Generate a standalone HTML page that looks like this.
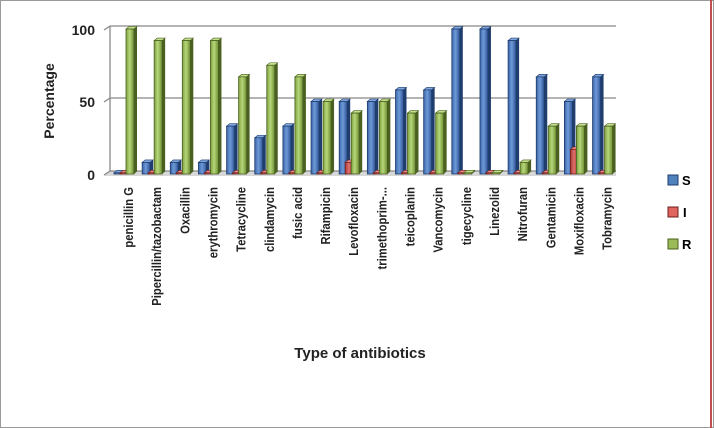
<!DOCTYPE html>
<html><head><style>body{margin:0;background:#fff}svg{display:block;font-family:"Liberation Sans",sans-serif;font-weight:bold}</style></head><body>
<svg width="714" height="428" viewBox="0 0 714 428" xmlns="http://www.w3.org/2000/svg">
<defs>
<linearGradient id="gb" x1="0" x2="1"><stop offset="0" stop-color="#3a64a8"/><stop offset=".45" stop-color="#6f9ad8"/><stop offset="1" stop-color="#2f5597"/></linearGradient>
<linearGradient id="gr" x1="0" x2="1"><stop offset="0" stop-color="#a83a36"/><stop offset=".45" stop-color="#e0706b"/><stop offset="1" stop-color="#9b2f2b"/></linearGradient>
<linearGradient id="gg" x1="0" x2="1"><stop offset="0" stop-color="#7e9f3e"/><stop offset=".45" stop-color="#b6d77a"/><stop offset="1" stop-color="#6f8e33"/></linearGradient>
</defs>
<rect x="0.5" y="0.5" width="713" height="427" fill="#fff" stroke="#999"/>
<line x1="711" y1="0" x2="711" y2="428" stroke="#c0504d" stroke-width="2"/>
<polygon points="104,176 110,171 616,171 616,176" fill="#d8d8d8"/>
<g stroke="#888" stroke-width="1.3">
<line x1="110" y1="26" x2="616" y2="26"/><line x1="104" y1="30" x2="110" y2="26"/>
<line x1="110" y1="98" x2="616" y2="98"/><line x1="104" y1="102" x2="110" y2="98"/>
<line x1="110" y1="171" x2="616" y2="171"/><line x1="104" y1="175" x2="110" y2="171"/>
<line x1="110" y1="26" x2="110" y2="171"/>
</g>
<g font-size="14" fill="#222" text-anchor="end">
<text x="95" y="35">100</text><text x="95" y="107">50</text><text x="95" y="180">0</text>
</g>
<text transform="translate(54,101) rotate(-90)" font-size="14" text-anchor="middle" fill="#222">Percentage</text>
<text x="360" y="358" font-size="15" text-anchor="middle" fill="#222">Type of antibiotics</text>
<g id="bars"></g>
<g font-size="12.5" fill="#222" text-anchor="end" id="labels"></g>
<rect x="668" y="175" width="10" height="10" fill="#4f81bd" stroke="#1f3d6d"/><text x="682" y="185" font-size="13">S</text>
<rect x="668" y="207" width="10" height="10" fill="#e06560" stroke="#6d1f1d"/><text x="683" y="217" font-size="13">I</text>
<rect x="668" y="239" width="10" height="10" fill="#9bbb59" stroke="#4a6020"/><text x="682" y="249" font-size="13">R</text>
<script>
var d=[["penicillin G",0,0,100],["Pipercillin/tazobactam",8,0,92],["Oxacillin",8,0,92],["erythromycin",8,0,92],["Tetracycline",33,0,67],["clindamycin",25,0,75],["fusic acid",33,0,67],["Rifampicin",50,0,50],["Levofloxacin",50,8,42],["trimethoprim-...",50,0,50],["teicoplanin",58,0,42],["Vancomycin",58,0,42],["tigecycline",100,0,0],["Linezolid",100,0,0],["Nitrofuran",92,0,8],["Gentamicin",67,0,33],["Moxifloxacin",50,17,33],["Tobramycin",67,0,33]];
var ns="http://www.w3.org/2000/svg",B=document.getElementById("bars"),L=document.getElementById("labels");
var fills=["url(#gb)","url(#gr)","url(#gg)"],tops=["#7fa6df","#e88a86","#c3df8c"],st=["#1f3d6d","#6d1f1d","#4a6020"];
function el(t,a,p){var e=document.createElementNS(ns,t);for(var k in a)e.setAttribute(k,a[k]);p.appendChild(e);return e;}
d.forEach(function(r,i){var g=114+28.15*i;
for(var s=0;s<3;s++){var v=r[s+1],x=g+s*6,w=8,h=Math.max(v*1.45,1.2),y=174-h;
el("polygon",{points:(x+w)+","+y+" "+(x+w+3)+","+(y-2.5)+" "+(x+w+3)+","+(174-2.5)+" "+(x+w)+",174",fill:st[s]},B);
el("polygon",{points:x+","+y+" "+(x+3)+","+(y-2.5)+" "+(x+w+3)+","+(y-2.5)+" "+(x+w)+","+y,fill:tops[s],stroke:st[s],"stroke-width":".6"},B);
el("rect",{x:x,y:y,width:w,height:h,fill:fills[s],stroke:st[s],"stroke-width":".8"},B);}
var t=el("text",{transform:"translate("+(g+19)+",187) rotate(-90) scale(0.9,1.05)"},L);t.textContent=r[0];});
</script>
</svg>
</body></html>
